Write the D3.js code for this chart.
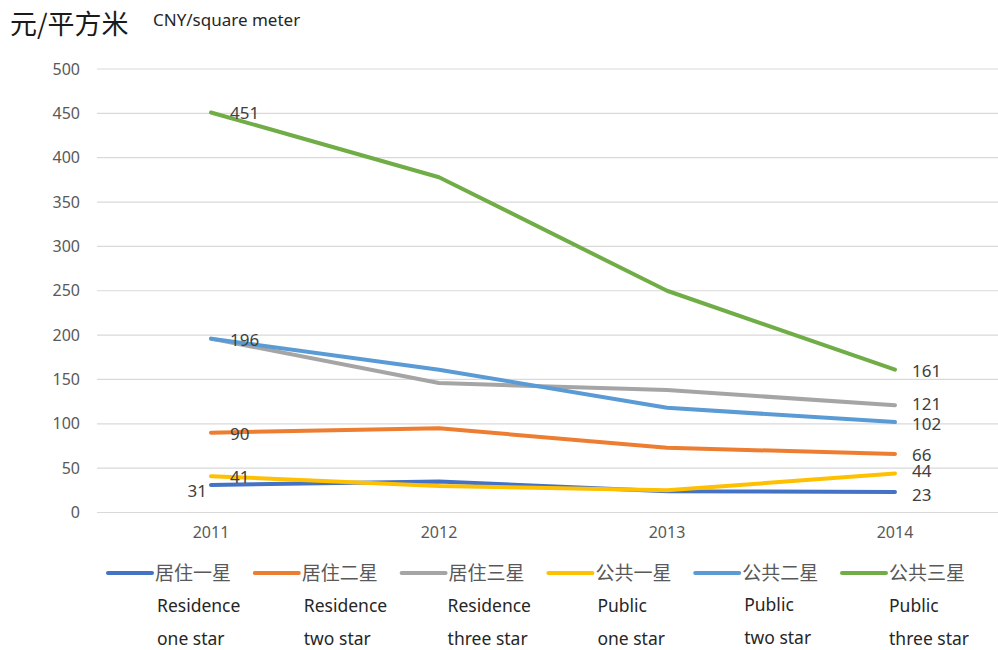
<!DOCTYPE html>
<html>
<head>
<meta charset="utf-8">
<script src="https://cdn.jsdelivr.net/npm/d3@7"></script>
<style>
  body { margin: 0; background: #fff; }
  svg text { font-family: "Noto Sans", "Noto Sans CJK SC", sans-serif; }
</style>
</head>
<body>
<div id="chart"></div>
<script>
// chart data
let years = ["2011", "2012", "2013", "2014"];
let seriesCn = ["居住一星", "居住二星", "居住三星", "公共一星", "公共二星", "公共三星"];
let seriesEn1 = ["Residence", "Residence", "Residence", "Public", "Public", "Public"];
let seriesEn2 = ["one star", "two star", "three star", "one star", "two star", "three star"];
let resOne   = [31, 35, 24, 23];
let resTwo   = [90, 95, 73, 66];
let resThree = [196, 146, 138, 121];
let pubOne   = [41, 30, 25, 44];
let pubTwo   = [196, 161, 118, 102];
let pubThree = [451, 378, 250, 161];
let yTicks = [0, 50, 100, 150, 200, 250, 300, 350, 400, 450, 500];

let allValues = [resOne, resTwo, resThree, pubOne, pubTwo, pubThree];
let colors = ["#4472C4", "#ED7D31", "#A5A5A5", "#FFC000", "#5B9BD5", "#70AD47"];
// side of the first-year label per series, null = hidden
let firstLabel = ["L", "R", null, "R", "R", "R"];
// small vertical nudges for the last-year labels so they don't collide
let lastNudge = [2, 0, -2, -3, 1, 0];

let width = 998, height = 650;

let svg = d3.select("#chart")
    .append("svg")
    .attr("width", width)
    .attr("height", height);

let x = d3.scaleBand()
    .domain(years)
    .range([97, 1009]);

let y = d3.scaleLinear()
    .domain([0, 500])
    .range([512.5, 69]);

// gridlines
svg.append("g")
    .selectAll("line")
    .data(yTicks)
    .join("line")
    .attr("x1", 97)
    .attr("x2", 998)
    .attr("y1", d => y(d))
    .attr("y2", d => y(d))
    .attr("stroke", "#d9d9d9")
    .attr("stroke-width", 1.2);

// y axis labels
let yAxis = svg.append("g")
    .attr("transform", "translate(80,0)")
    .call(d3.axisLeft(y).tickValues(yTicks).tickSize(0).tickPadding(0));
yAxis.select(".domain").remove();
yAxis.selectAll("text")
    .attr("fill", "#595959")
    .style("font-size", "16px");

// x axis labels
let xAxis = svg.append("g")
    .attr("transform", "translate(0,527)")
    .call(d3.axisBottom(x).tickSize(0).tickPadding(0));
xAxis.select(".domain").remove();
xAxis.selectAll("text")
    .attr("fill", "#595959")
    .style("font-size", "16px");

let cx = d => x(d) + x.bandwidth() / 2;

let line = d3.line()
    .x((d, i) => cx(years[i]))
    .y(d => y(d));

svg.append("g")
    .selectAll("path")
    .data(allValues)
    .join("path")
    .attr("d", d => line(d))
    .attr("fill", "none")
    .attr("stroke", (d, i) => colors[i])
    .attr("stroke-width", 4)
    .attr("stroke-linecap", "round")
    .attr("stroke-linejoin", "round");

// data labels
let labels = svg.append("g")
    .style("font-size", "17px")
    .attr("fill", "#404040");

allValues.forEach(function(vals, i) {
    let side = firstLabel[i];
    if (side) {
        labels.append("text")
            .attr("x", side == "L" ? cx(years[0]) - 4 : cx(years[0]) + 19)
            .attr("y", y(vals[0]) + (side == "L" ? 6 : 1))
            .attr("dy", "0.35em")
            .attr("text-anchor", side == "L" ? "end" : "start")
            .text(vals[0]);
    }
    let last = vals.length - 1;
    labels.append("text")
        .attr("x", cx(years[last]) + 17)
        .attr("y", y(vals[last]) + 1 + lastNudge[i])
        .attr("dy", "0.35em")
        .text(vals[last]);
});

// title
svg.append("text")
    .attr("x", 10)
    .attr("y", 34)
    .attr("fill", "#1a1a1a")
    .style("font-size", "27px")
    .style("font-family", "'Noto Sans CJK SC', sans-serif")
    .text("元/平方米");

svg.append("text")
    .attr("x", 153)
    .attr("y", 26)
    .attr("fill", "#262626")
    .style("font-size", "17px")
    .text("CNY/square meter");

// legend
let legend = svg.append("g")
    .selectAll("g")
    .data(seriesCn)
    .join("g")
    .attr("transform", (d, i) => `translate(${108 + i * 146.8},0)`);

legend.append("line")
    .attr("x1", 0).attr("x2", 44)
    .attr("y1", 573).attr("y2", 573)
    .attr("stroke", (d, i) => colors[i])
    .attr("stroke-width", 4)
    .attr("stroke-linecap", "round");

legend.append("text")
    .attr("x", 47)
    .attr("y", 580)
    .attr("fill", "#595959")
    .style("font-size", "19px")
    .style("font-family", "'Noto Sans CJK SC', sans-serif")
    .text(d => d);

let enX = [49, 49, 46, 49, 49, 47];

legend.append("text")
    .attr("x", (d, i) => enX[i])
    .attr("y", (d, i) => i == 4 ? 611 : 612)
    .attr("fill", "#262626")
    .style("font-size", "17.5px")
    .text((d, i) => seriesEn1[i]);

legend.append("text")
    .attr("x", (d, i) => enX[i])
    .attr("y", (d, i) => i == 4 ? 644 : 645)
    .attr("fill", "#262626")
    .style("font-size", "17.5px")
    .text((d, i) => seriesEn2[i]);
</script>
</body>
</html>
